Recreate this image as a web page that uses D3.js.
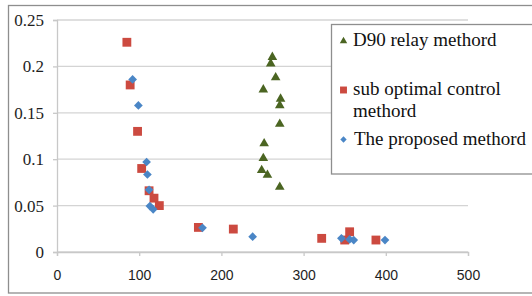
<!DOCTYPE html>
<html>
<head>
<meta charset="utf-8">
<script src="https://cdn.jsdelivr.net/npm/d3@7"></script>
<style>
  body { margin: 0; background: #fff; }
  svg { display: block; }
</style>
</head>
<body>
<div id="chart"></div>
<script>
// series values
var seriesNames = ["D90 relay methord", "sub optimal control methord", "The proposed methord"];

var d90X = [262, 260, 266, 251, 272, 271, 271, 252, 251, 249, 256, 271];
var d90Y = [0.210, 0.203, 0.188, 0.175, 0.165, 0.158, 0.138, 0.117, 0.101, 0.088, 0.083, 0.070];

var subX = [85, 89, 98, 103, 112, 118, 124.5, 172, 214.5, 322, 356, 350, 388];
var subY = [0.226, 0.180, 0.130, 0.090, 0.066, 0.058, 0.050, 0.0265, 0.0247, 0.0147, 0.0218, 0.0129, 0.0129];

var propX = [92, 99, 109, 110, 112, 113, 117, 177, 238, 346, 356, 361, 399];
var propY = [0.186, 0.158, 0.097, 0.0835, 0.067, 0.0495, 0.046, 0.026, 0.0165, 0.0147, 0.0136, 0.0129, 0.0129];

var xTicks = [0, 100, 200, 300, 400, 500];
var yTicks = [0, 0.05, 0.1, 0.15, 0.2, 0.25];

var serifFont = "'Liberation Serif'";
var sansFont = "'Liberation Sans'";

var svgWidth = 532;
var svgHeight = 296;

var svg = d3.select("#chart")
  .append("svg")
  .attr("width", svgWidth)
  .attr("height", svgHeight);

// outer chart frame (right edge runs off the picture)
svg.append("rect")
  .attr("x", 8.5).attr("y", 5.5)
  .attr("width", 560).attr("height", 287.5)
  .attr("fill", "#fff")
  .attr("stroke", "#8e8e8e")
  .attr("stroke-width", 1.3);

var xScale = d3.scaleLinear().domain([0, 500]).range([57, 468]);
var yScale = d3.scaleLinear().domain([0, 0.25]).range([252, 20]);

// gridlines
svg.append("g")
  .selectAll("line")
  .data(yTicks)
  .enter()
  .append("line")
  .attr("x1", xScale(0))
  .attr("x2", xScale(500))
  .attr("y1", d => yScale(d))
  .attr("y2", d => yScale(d))
  .attr("stroke", "#d4d4d4")
  .attr("stroke-width", 1.3);

// axes
var bottomAxis = d3.axisBottom(xScale).tickValues(xTicks).tickSize(4).tickPadding(14)
  .tickFormat(d3.format("d"));
var leftAxis = d3.axisLeft(yScale).tickValues(yTicks).tickSize(4).tickPadding(9)
  .tickFormat(d => d === 0 ? "0" : String(+d.toFixed(2)));

var xAxisG = svg.append("g")
  .attr("transform", `translate(0, ${yScale(0)})`)
  .call(bottomAxis);
xAxisG.selectAll("text")
  .style("font-family", sansFont)
  .style("font-size", "14px")
  .attr("fill", "#1e1e1e");

var yAxisG = svg.append("g")
  .attr("transform", `translate(${xScale(0)}, 0)`)
  .call(leftAxis);
yAxisG.selectAll("text")
  .style("font-family", serifFont)
  .style("font-size", "17px")
  .attr("fill", "#1e1e1e");

svg.selectAll(".domain").attr("stroke", "#c8c8c8").attr("stroke-width", 1.3);
svg.selectAll(".tick line").attr("stroke", "#c8c8c8").attr("stroke-width", 1.3);

// markers
var triangle = d3.symbol().type(d3.symbolTriangle).size(40);
var square = d3.symbol().type(d3.symbolSquare).size(78);
var diamond = d3.symbol().type(d3.symbolSquare).size(38);

function toPoints(xs, ys) {
  return xs.map((x, i) => ({ x: x, y: ys[i] }));
}

svg.append("g")
  .selectAll("path")
  .data(toPoints(d90X, d90Y))
  .enter()
  .append("path")
  .attr("d", triangle)
  .attr("transform", d => `translate(${xScale(d.x)}, ${yScale(d.y)})`)
  .attr("fill", "#4b6522");

svg.append("g")
  .selectAll("path")
  .data(toPoints(subX, subY))
  .enter()
  .append("path")
  .attr("d", square)
  .attr("transform", d => `translate(${xScale(d.x)}, ${yScale(d.y)})`)
  .attr("fill", "#cc4a40");

svg.append("g")
  .selectAll("path")
  .data(toPoints(propX, propY))
  .enter()
  .append("path")
  .attr("d", diamond)
  .attr("transform", d => `translate(${xScale(d.x)}, ${yScale(d.y)}) rotate(45)`)
  .attr("fill", "#4a86c6");

// legend
var legend = svg.append("g");
legend.append("rect")
  .attr("x", 331.5).attr("y", 24.5)
  .attr("width", 240).attr("height", 149.5)
  .attr("fill", "#fff")
  .attr("stroke", "#8e8e8e")
  .attr("stroke-width", 1.3);

legend.append("path")
  .attr("d", d3.symbol().type(d3.symbolTriangle).size(24))
  .attr("transform", "translate(343.5, 41)")
  .attr("fill", "#4b6522");
legend.append("text")
  .attr("x", 353).attr("y", 46)
  .style("font-family", serifFont)
  .style("font-size", "19px").attr("fill", "#111")
  .text(seriesNames[0]);

legend.append("path")
  .attr("d", d3.symbol().type(d3.symbolSquare).size(48))
  .attr("transform", "translate(343.5, 90)")
  .attr("fill", "#cc4a40");
legend.append("text")
  .style("font-family", serifFont)
  .style("font-size", "19px").attr("fill", "#111")
  .selectAll("tspan")
  .data(["sub optimal control", "methord"])
  .enter()
  .append("tspan")
  .attr("x", 353)
  .attr("y", (d, i) => 95 + i * 22)
  .text(d => d);

legend.append("path")
  .attr("d", d3.symbol().type(d3.symbolSquare).size(20))
  .attr("transform", "translate(343.5, 139.5) rotate(45)")
  .attr("fill", "#4a86c6");
legend.append("text")
  .attr("x", 354).attr("y", 145)
  .style("font-family", serifFont)
  .style("font-size", "19px").attr("fill", "#111")
  .text(seriesNames[2]);
</script>
</body>
</html>
